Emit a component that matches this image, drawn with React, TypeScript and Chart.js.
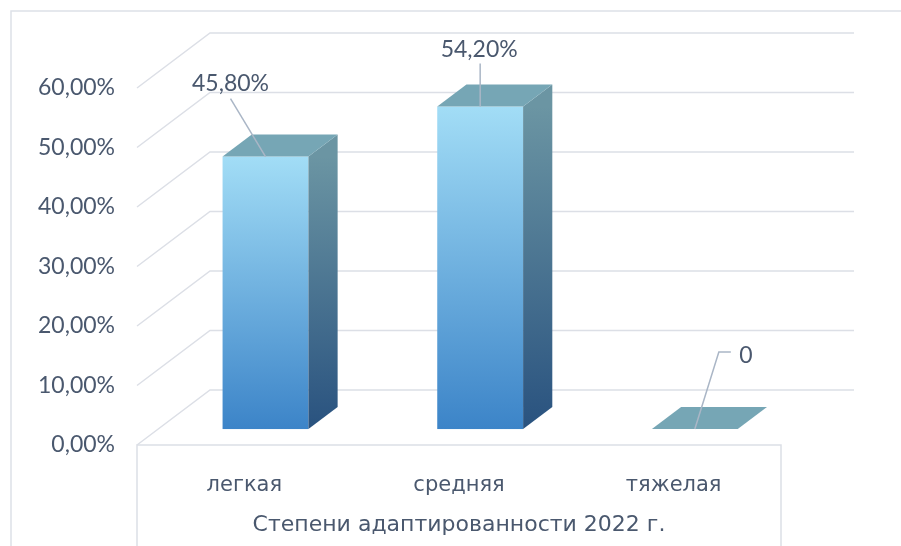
import React, { useEffect, useRef } from 'react';
import { Chart, registerables } from 'chart.js';

Chart.register(...registerables);

// ---- data ----
const categories = ['легкая', 'средняя', 'тяжелая'];
const values = [0.458, 0.542, 0];
const dataLabels = ['45,80%', '54,20%', '0'];
const axisTitle = 'Степени адаптированности 2022 г.';
const yMin = 0;
const yMax = 0.6;
const yStep = 0.1;

// ---- style ----
const TEXT = '#4a586e';
const GRID = '#dcdfe6';
const FRAME = '#dde1e8';
const LEADER = '#aab6c6';
const DEPTH_X = 73;
const DEPTH_Y = -55;
const BAR_D0 = 0.29;
const BAR_D1 = 0.69;
const NUM_FONT = 'Lato';
const TXT_FONT = 'DejaVu Sans';
const NUM_WEIGHT = 400;
const TXT_WEIGHT = 400;
// label placement relative to bar top-front centre: label centre + leader path
const LABEL_POS = [
  { lx: -35, ly: -75, path: [[-35, -58]] },
  { lx: -1, ly: -59, path: [[0, -43]] },
  { lx: 51, ly: -75, path: [[24, -77], [36, -77]] },
];

const fmtPct = (v: number) => (v * 100).toFixed(2).replace('.', ',') + '%';

const threeD = {
  id: 'threeD',
  beforeDatasetsDraw(chart: any) {
    const { ctx, chartArea, scales } = chart;
    const y = scales.y;
    ctx.save();
    // outer frame
    ctx.strokeStyle = FRAME;
    ctx.lineWidth = 1.5;
    ctx.beginPath();
    ctx.moveTo(chart.width, 11);
    ctx.lineTo(11, 11);
    ctx.lineTo(11, chart.height);
    ctx.stroke();
    // walls: side wall diagonals + back wall lines
    ctx.strokeStyle = GRID;
    ctx.lineWidth = 1.5;
    y.ticks.forEach((t: any) => {
      const py = y.getPixelForValue(t.value);
      ctx.beginPath();
      ctx.moveTo(chartArea.left, py);
      ctx.lineTo(chartArea.left + DEPTH_X, py + DEPTH_Y);
      ctx.lineTo(chartArea.right + DEPTH_X, py + DEPTH_Y);
      ctx.stroke();
    });
    // floor front edge and category box
    const p0 = y.getPixelForValue(0);
    ctx.beginPath();
    ctx.moveTo(chartArea.left, chart.height);
    ctx.lineTo(chartArea.left, p0);
    ctx.lineTo(chartArea.right, p0);
    ctx.lineTo(chartArea.right, chart.height);
    ctx.stroke();
    ctx.restore();
  },
  afterDatasetsDraw(chart: any) {
    const { ctx } = chart;
    const meta = chart.getDatasetMeta(0);
    const ox0 = DEPTH_X * BAR_D0, oy0 = DEPTH_Y * BAR_D0;
    const ox1 = DEPTH_X * BAR_D1, oy1 = DEPTH_Y * BAR_D1;
    ctx.save();
    meta.data.forEach((bar: any, i: number) => {
      const { x, y, base, width } = bar.getProps(['x', 'y', 'base', 'width'], true);
      const xl = x - width / 2, xr = x + width / 2;
      const h = base - y;
      if (h > 0.5) {
        // front
        const gf = ctx.createLinearGradient(0, y + oy0, 0, base + oy0);
        gf.addColorStop(0, '#a2ddf6');
        gf.addColorStop(1, '#3c84c8');
        ctx.fillStyle = gf;
        ctx.fillRect(xl + ox0, y + oy0, width, h);
        // side
        const gs = ctx.createLinearGradient(0, y + oy0, 0, base + oy0);
        gs.addColorStop(0, '#6b95a3');
        gs.addColorStop(1, '#29527f');
        ctx.fillStyle = gs;
        ctx.beginPath();
        ctx.moveTo(xr + ox0, y + oy0);
        ctx.lineTo(xr + ox1, y + oy1);
        ctx.lineTo(xr + ox1, base + oy1);
        ctx.lineTo(xr + ox0, base + oy0);
        ctx.closePath();
        ctx.fill();
      }
      // top
      ctx.fillStyle = '#76a6b5';
      ctx.beginPath();
      ctx.moveTo(xl + ox0, y + oy0);
      ctx.lineTo(xr + ox0, y + oy0);
      ctx.lineTo(xr + ox1, y + oy1);
      ctx.lineTo(xl + ox1, y + oy1);
      ctx.closePath();
      ctx.fill();

      // data label + leader line
      const bx = x + ox0, by = y + oy0;
      const lp = LABEL_POS[i];
      ctx.strokeStyle = LEADER;
      ctx.lineWidth = 1.5;
      ctx.beginPath();
      ctx.moveTo(bx, by);
      lp.path.forEach((p) => ctx.lineTo(bx + p[0], by + p[1]));
      ctx.stroke();
      ctx.fillStyle = TEXT;
      ctx.font = `${NUM_WEIGHT} 23px ${NUM_FONT}`;
      ctx.textAlign = 'center';
      ctx.textBaseline = 'middle';
      ctx.fillText(dataLabels[i], bx + lp.lx, by + lp.ly + 2);
    });
    ctx.restore();
  },
};

export default function App() {
  const ref = useRef<HTMLCanvasElement>(null);
  useEffect(() => {
    if (!ref.current) return;
    const chart = new Chart(ref.current, {
      type: 'bar',
      data: {
        labels: categories,
        datasets: [
          {
            data: values,
            backgroundColor: 'rgba(0,0,0,0)',
            borderWidth: 0,
            barPercentage: 0.4,
            categoryPercentage: 1,
          },
        ],
      },
      options: {
        responsive: false,
        animation: false,
        layout: { padding: { top: 88, right: 120, left: 0, bottom: 0 } },
        plugins: { legend: { display: false }, tooltip: { enabled: false } },
        scales: {
          x: {
            grid: { display: false },
            border: { display: false },
            ticks: { color: TEXT, font: { family: TXT_FONT, size: 21, weight: TXT_WEIGHT }, padding: 20 },
            title: {
              display: true,
              text: axisTitle,
              color: TEXT,
              font: { family: TXT_FONT, size: 22, weight: TXT_WEIGHT },
              padding: { top: 0, bottom: 8 },
            },
            afterFit: (s: any) => {
              s.height = 101;
            },
          },
          y: {
            min: yMin,
            max: yMax,
            grid: { display: false, drawTicks: false },
            border: { display: false },
            ticks: {
              stepSize: yStep,
              color: TEXT,
              font: { family: NUM_FONT, size: 23, weight: NUM_WEIGHT },
              padding: 22,
              callback: (v: any) => fmtPct(Number(v)),
            },
            afterFit: (s: any) => {
              s.width = 137;
            },
          },
        },
      },
      plugins: [threeD],
    });
    return () => chart.destroy();
  }, []);
  return (
    <div style={{ position: 'absolute', left: 0, top: 0, width: 901, height: 546, background: '#fff' }}>
      <canvas ref={ref} width={901} height={546} style={{ display: 'block' }} />
    </div>
  );
}
